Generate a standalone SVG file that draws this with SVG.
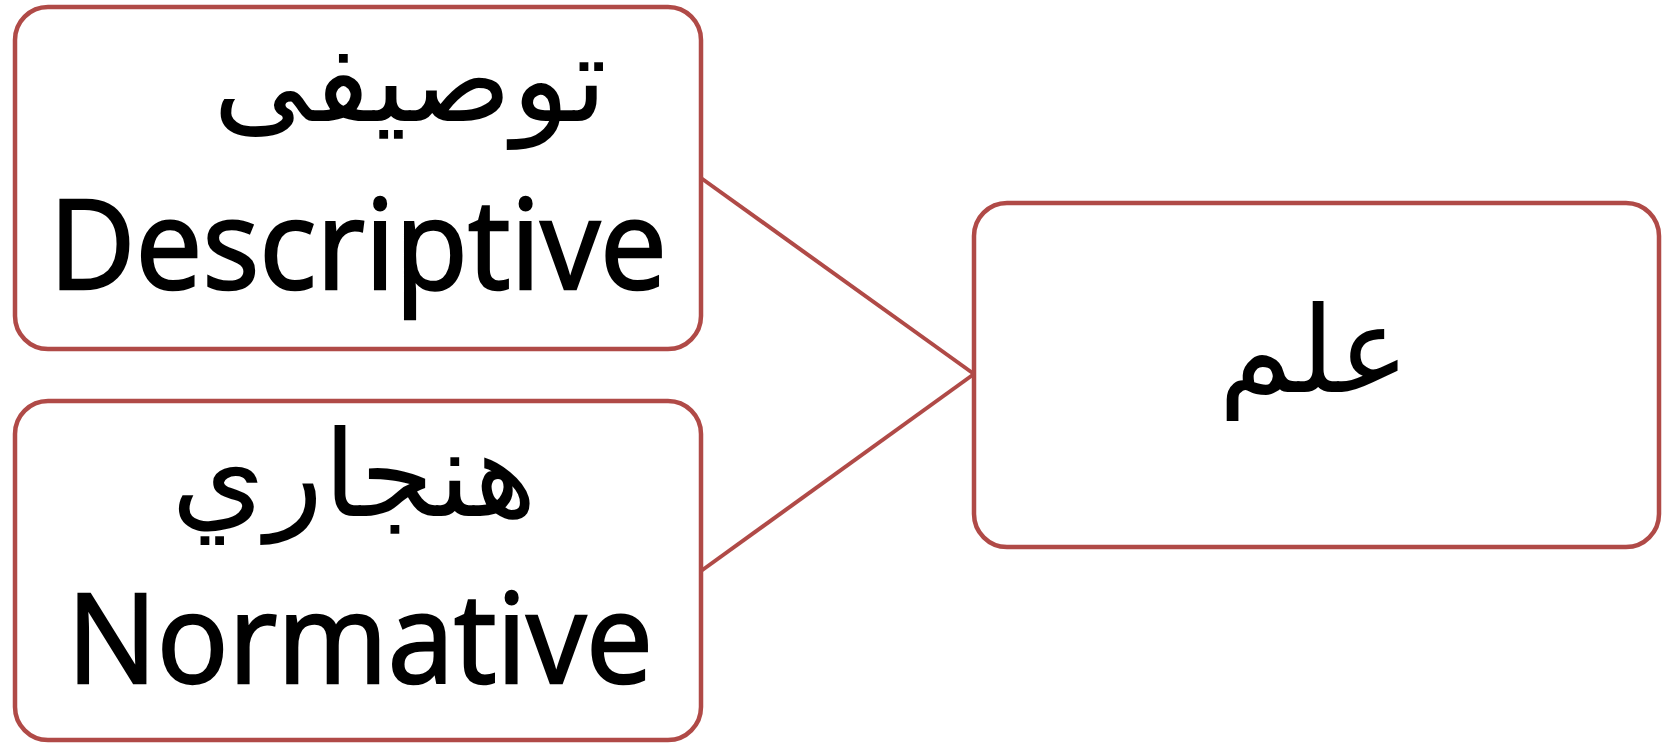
<svg xmlns="http://www.w3.org/2000/svg" width="1668" height="744" viewBox="0 0 1668 744">
<style>
.box{fill:#fff;stroke:#B04A47;stroke-width:4.5}
.conn{stroke:#B04A47;stroke-width:4;fill:none}
.en{font-family:"Open Sans","Liberation Sans",sans-serif;font-size:124px;fill:#000;stroke:#000;stroke-width:2.5;text-anchor:middle}
.ar{font-family:"DejaVu Sans",sans-serif;font-size:120px;fill:#000;text-anchor:middle}
</style>
<rect width="1668" height="744" fill="#fff"/>
<g id="connectors">
<line class="conn" x1="701" y1="178" x2="974" y2="374"/>
<line class="conn" x1="701" y1="571" x2="974" y2="374"/>
</g>
<g id="node-descriptive">
<rect class="box" x="15" y="7" width="686" height="342" rx="33" ry="33"/>
<text class="ar" x="410" y="121" direction="rtl">توصيفی</text>
<text class="en" x="358" y="289" textLength="618" lengthAdjust="spacingAndGlyphs">Descriptive</text>
</g>
<g id="node-normative">
<rect class="box" x="15" y="401" width="686" height="339" rx="33" ry="33"/>
<text class="ar" x="354" y="516" direction="rtl" font-size="124">هنجاري</text>
<text class="en" x="360" y="683" textLength="586" lengthAdjust="spacingAndGlyphs">Normative</text>
</g>
<g id="node-science">
<rect class="box" x="974" y="203" width="685" height="344" rx="33" ry="33"/>
<text class="ar" x="1314" y="392" direction="rtl" font-size="104">علم</text>
</g>
</svg>
